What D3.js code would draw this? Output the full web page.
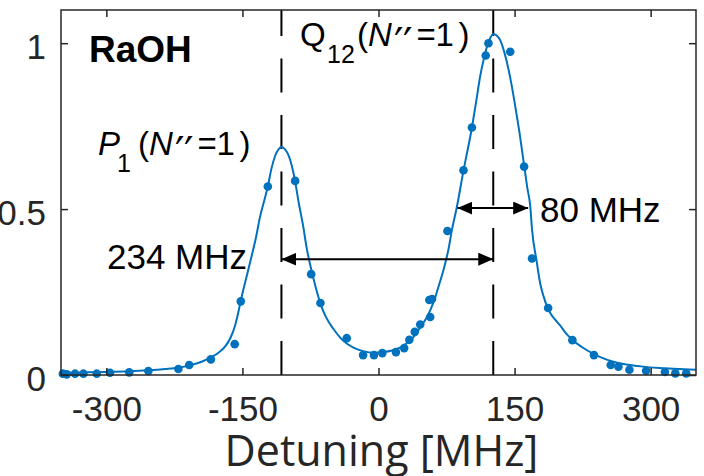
<!DOCTYPE html>
<html>
<head>
<meta charset="utf-8">
<script src="https://cdn.jsdelivr.net/npm/d3@7"></script>
<style>
    body { margin: 0; background: #fff; }
    text { font-family: "Liberation Sans", Arial, sans-serif; }
</style>
</head>
<body>
<svg id="chart" width="704" height="476"></svg>
<script>

// measured spectrum points: detuning [MHz] and normalised signal
const pointX = [-348, -343.7, -334.5, -325.3, -310.6, -296, -274.8, -253.7, -220.6, -208.7, -184.8,
    -158.5, -151.8, -122, -91.9, -74.2, -64, -35, -17, -5, 4.2, 19.2, 28.3, 34, 40, 46, 57, 56, 59,
    76, 93.7, 103, 118.2, 121.2, 145.2, 160.5, 169.2, 187, 213.7, 237.5, 256, 264.5, 276.6, 295,
    315.7, 327.2, 339.2];
const pointY = [0.004, 0.002, 0.004, 0.004, 0.004, 0.007, 0.008, 0.012, 0.018, 0.030, 0.047,
    0.093, 0.222, 0.568, 0.585, 0.304, 0.217, 0.111, 0.060, 0.060, 0.066, 0.069, 0.081, 0.106, 0.130, 0.152, 0.175, 0.226, 0.229,
    0.434, 0.617, 0.746, 0.963, 1.000, 0.974, 0.628, 0.351, 0.202, 0.105, 0.060, 0.030, 0.025, 0.016, 0.013,
    0.009, 0.005, 0.005];

// fitted line
const fitX = [-350, -320, -300, -275, -254, -235, -221, -208, -195, -185, -176, -169, -163, -158, -155, -152,
    -146, -140, -135, -130.5, -126, -122, -118, -114, -110, -106.5, -103, -100, -97, -94, -92, -88, -83, -79,
    -74, -69, -64, -58, -50, -42, -35, -27, -17, -5, 5, 15, 25, 35, 41, 46, 52, 57, 62, 66, 72, 77, 81, 86.5,
    93.7, 103, 108, 112, 116, 119.6, 123, 126.8, 130, 134, 139, 143.4, 147, 150.8, 156, 160.7, 164, 167.3,
    169.2, 174.5, 178.3, 182, 186, 190, 195, 200, 206, 213, 225, 237, 248, 259, 275, 289, 310, 325, 350];
const fitY = [0.007, 0.008, 0.009, 0.011, 0.014, 0.018, 0.022, 0.029, 0.040, 0.053, 0.068, 0.086, 0.113, 0.150, 0.183, 0.222,
    0.290, 0.357, 0.415, 0.478, 0.525, 0.568, 0.622, 0.660, 0.681, 0.687, 0.680, 0.667, 0.645, 0.612, 0.585, 0.520, 0.448, 0.380,
    0.317, 0.262, 0.215, 0.175, 0.140, 0.112, 0.095, 0.082, 0.072, 0.067, 0.069, 0.074, 0.084, 0.105, 0.122, 0.144, 0.168, 0.195, 0.230, 0.265, 0.320, 0.377, 0.438, 0.508,
    0.616, 0.746, 0.830, 0.899, 0.952, 0.990, 1.015, 1.028, 1.024, 1.010, 0.970, 0.920, 0.870, 0.809, 0.720, 0.628, 0.565, 0.508,
    0.440, 0.340, 0.275, 0.237, 0.205, 0.184, 0.166, 0.150, 0.128, 0.108, 0.083, 0.064, 0.050, 0.040, 0.031, 0.026, 0.021, 0.019, 0.016];

const peakCenters = [-107, 126.5];

const arrowStart = [-107, 87];
const arrowEnd = [126.5, 165];
const arrowLevel = [0.349, 0.503];
const arrowLabels = ['234 MHz', '80 MHz'];

const xTicks = [-300, -150, 0, 150, 300];
const yTicks = [0, 0.5, 1];
const yTickLabels = ['0', '0.5', '1'];

const width = 704, height = 476;
const margin = {top: 10, right: 8, bottom: 101, left: 61};
const blue = '#0072bd';
const axisColor = '#262626';

const svg = d3.select('#chart');

const x = d3.scaleLinear().domain([-350, 350]).range([margin.left, width - margin.right]);
const y = d3.scaleLinear().domain([0, 1.1]).range([height - margin.bottom, margin.top]);

// dashed lines at the two line centres
svg.append('g').selectAll('line')
    .data(peakCenters)
    .enter().append('line')
    .attr('x1', d => x(d)).attr('x2', d => x(d))
    .attr('y1', y(0)).attr('y2', y(1.1))
    .attr('stroke', '#000')
    .attr('stroke-width', 2)
    .attr('stroke-dasharray', '34,22.5');

// fit
const fitLine = d3.line()
    .x((d, i) => x(fitX[i]))
    .y(d => y(d))
    .curve(d3.curveMonotoneX);

svg.append('path')
    .datum(fitY)
    .attr('d', fitLine)
    .attr('fill', 'none')
    .attr('stroke', blue)
    .attr('stroke-width', 2);

// data points
svg.append('g').selectAll('circle')
    .data(pointY)
    .enter().append('circle')
    .attr('cx', (d, i) => x(pointX[i]))
    .attr('cy', d => y(d))
    .attr('r', 4.3)
    .attr('fill', blue);

// axes, ticks pointing inwards like matlab
function styleAxis(g) {
    g.select('.domain').remove();
    g.selectAll('.tick line').attr('stroke', axisColor).attr('stroke-width', 1.5);
    g.selectAll('.tick text').attr('fill', axisColor).style('font-size', '35px');
}

svg.append('g')
    .attr('transform', 'translate(0,' + y(0) + ')')
    .call(d3.axisBottom(x).tickValues(xTicks).tickSize(-7).tickSizeOuter(0).tickPadding(21)
        .tickFormat(d => String(d)))
    .call(styleAxis);

svg.append('g')
    .attr('transform', 'translate(0,' + y(1.1) + ')')
    .call(d3.axisTop(x).tickValues(xTicks).tickSize(-7).tickSizeOuter(0).tickFormat(''))
    .call(styleAxis);

svg.append('g')
    .attr('transform', 'translate(' + x(-350) + ',0)')
    .call(d3.axisLeft(y).tickValues(yTicks).tickSize(-7).tickSizeOuter(0).tickPadding(15)
        .tickFormat((d, i) => yTickLabels[i]))
    .call(styleAxis)
    .selectAll('.tick text').attr('dy', '0.43em');

svg.append('g')
    .attr('transform', 'translate(' + x(350) + ',0)')
    .call(d3.axisRight(y).tickValues(yTicks).tickSize(-7).tickSizeOuter(0).tickFormat(''))
    .call(styleAxis);

svg.append('rect')
    .attr('x', x(-350)).attr('y', y(1.1))
    .attr('width', x(350) - x(-350)).attr('height', y(0) - y(1.1))
    .attr('fill', 'none')
    .attr('stroke', axisColor)
    .attr('stroke-width', 1.5);

svg.append('text')
    .attr('x', (x(-350) + x(350)) / 2 + 3)
    .attr('y', 466)
    .attr('text-anchor', 'middle')
    .attr('fill', axisColor)
    .style('font-family', '"Open Sans", sans-serif')
    .style('font-size', '43px')
    .text('Detuning [MHz]');

// width arrows
svg.append('defs').append('marker')
    .attr('id', 'head')
    .attr('markerUnits', 'userSpaceOnUse')
    .attr('markerWidth', 15).attr('markerHeight', 13)
    .attr('refX', 15).attr('refY', 6.5)
    .attr('orient', 'auto-start-reverse')
    .append('path')
    .attr('d', 'M0,0L15,6.5L0,13Z')
    .attr('fill', '#000');

svg.append('g').selectAll('line')
    .data(arrowLevel)
    .enter().append('line')
    .attr('x1', (d, i) => x(arrowStart[i]))
    .attr('x2', (d, i) => x(arrowEnd[i]))
    .attr('y1', d => y(d)).attr('y2', d => y(d))
    .attr('stroke', '#000')
    .attr('stroke-width', 2)
    .attr('marker-start', 'url(#head)')
    .attr('marker-end', 'url(#head)');

svg.append('text').attr('x', 107).attr('y', 269)
    .style('font-size', '35px').attr('fill', '#000').text(arrowLabels[0]);
svg.append('text').attr('x', 540).attr('y', 222)
    .style('font-size', '35px').attr('fill', '#000').text(arrowLabels[1]);

svg.append('text').attr('x', 89).attr('y', 62)
    .style('font-size', '37px').style('font-weight', 'bold').attr('fill', '#000').text('RaOH');

// transition labels, matlab tex style: X_{sub}(N''=1)
function transitionLabel(main, sub, mainItalic, left, subX, parenX, base) {
    const t = svg.append('text').attr('y', base).attr('fill', '#000').style('font-size', '33px');
    t.append('tspan').attr('x', left).style('font-style', mainItalic ? 'italic' : 'normal').text(main);
    t.append('tspan').attr('x', subX).attr('y', base + 17).style('font-size', '25px').text(sub);
    t.append('tspan').attr('x', parenX).attr('y', base).text('(');
    t.append('tspan').attr('x', parenX + 11).style('font-style', 'italic').text('N');
    // primes: enlarged and pulled down to cap height
    [37, 46].forEach(function (dx) {
        t.append('tspan').attr('x', parenX + dx).attr('y', base + 12)
            .style('font-family', '"DejaVu Sans", sans-serif')
            .style('font-size', '42px').text('\u2032');
    });
    t.append('tspan').attr('x', parenX + 59.5).attr('y', base).text('=');
    t.append('tspan').attr('x', parenX + 78.5).text('1');
    t.append('tspan').attr('x', parenX + 101.5).text(')');
}

transitionLabel('P', '1', true, 98, 117, 138, 155);
transitionLabel('Q', '12', false, 300, 327, 357, 46);

</script>
</body>
</html>
